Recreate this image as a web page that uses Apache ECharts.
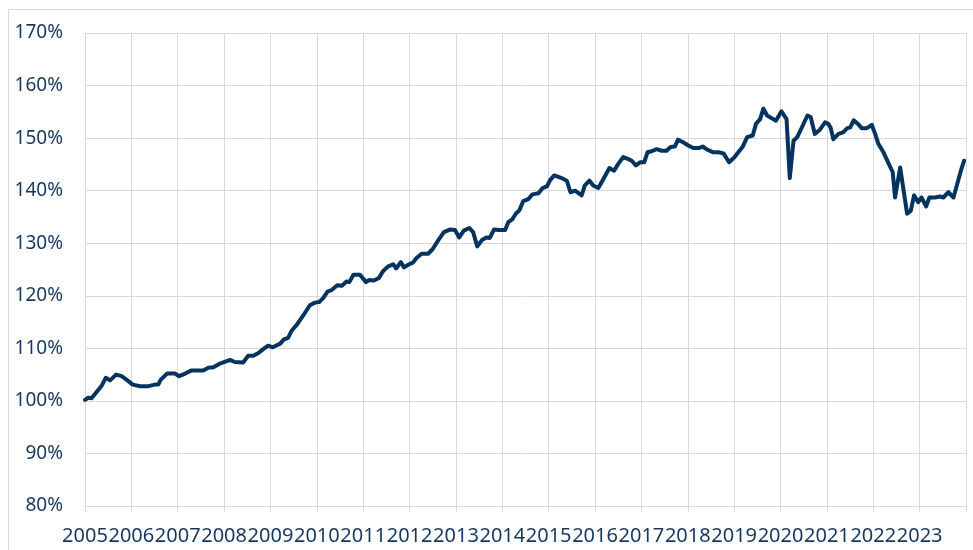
<!DOCTYPE html>
<html>
<head>
<meta charset="utf-8">
<title>Index</title>
<script src="https://cdn.jsdelivr.net/npm/echarts@6/dist/echarts.min.js"></script>
<style>
  html, body { margin: 0; padding: 0; background: #fff; }
  #chart { width: 973px; height: 550px; }
</style>
</head>
<body>
<div id="chart"></div>
<script>
// x positions as decimal years, values in %
const dates = [
  2005.00, 2005.07, 2005.14, 2005.25, 2005.36, 2005.45, 2005.54, 2005.67, 2005.79, 2005.90,
  2006.03, 2006.19, 2006.37, 2006.51, 2006.58, 2006.63, 2006.77, 2006.94,
  2007.03, 2007.16, 2007.30, 2007.55, 2007.66, 2007.77, 2007.91,
  2008.13, 2008.23, 2008.41, 2008.52, 2008.63, 2008.74, 2008.85, 2008.95,
  2009.05, 2009.21, 2009.29, 2009.38, 2009.46, 2009.57, 2009.71, 2009.85, 2009.96,
  2010.05, 2010.14, 2010.23, 2010.32, 2010.44, 2010.54, 2010.64, 2010.70, 2010.79, 2010.93,
  2011.06, 2011.13, 2011.23, 2011.34, 2011.43, 2011.54, 2011.65, 2011.71, 2011.81, 2011.88, 2011.97,
  2012.07, 2012.15, 2012.26, 2012.40, 2012.50, 2012.62, 2012.74, 2012.87, 2012.98,
  2013.07, 2013.17, 2013.29, 2013.37, 2013.46, 2013.56, 2013.66, 2013.73, 2013.82, 2013.93,
  2014.06, 2014.13, 2014.22, 2014.29, 2014.37, 2014.45, 2014.56, 2014.65, 2014.78, 2014.87, 2014.96,
  2015.03, 2015.12, 2015.28, 2015.39, 2015.47, 2015.57, 2015.71, 2015.78, 2015.88, 2015.96,
  2016.07, 2016.18, 2016.31, 2016.41, 2016.50, 2016.61, 2016.72, 2016.79, 2016.88, 2016.97,
  2017.06, 2017.13, 2017.22, 2017.33, 2017.44, 2017.54, 2017.63, 2017.72, 2017.79, 2017.90,
  2018.01, 2018.12, 2018.23, 2018.32, 2018.42, 2018.55, 2018.66, 2018.77, 2018.89,
  2019.00, 2019.09, 2019.18, 2019.28, 2019.40, 2019.47, 2019.56, 2019.63, 2019.71, 2019.81, 2019.90,
  2020.02, 2020.13, 2020.20, 2020.28, 2020.36, 2020.48, 2020.58, 2020.65, 2020.74, 2020.85, 2020.96,
  2021.03, 2021.08, 2021.14, 2021.25, 2021.35, 2021.44, 2021.50, 2021.58, 2021.67, 2021.75, 2021.86, 2021.97,
  2022.04, 2022.11, 2022.22, 2022.32, 2022.42, 2022.47, 2022.58, 2022.65, 2022.73, 2022.81, 2022.88, 2022.97,
  2023.04, 2023.14, 2023.21, 2023.33, 2023.44, 2023.51, 2023.62, 2023.73, 2023.83, 2023.91, 2023.96
]
const values = [
  100.2, 100.6, 100.5, 101.7, 102.9, 104.4, 103.9, 105.0, 104.7, 104.0,
  103.1, 102.8, 102.8, 103.1, 103.1, 104.0, 105.2, 105.2,
  104.7, 105.2, 105.8, 105.8, 106.3, 106.4, 107.1,
  107.8, 107.4, 107.3, 108.6, 108.6, 109.1, 109.9, 110.5,
  110.2, 110.9, 111.7, 112.0, 113.4, 114.5, 116.3, 118.2, 118.7,
  118.8, 119.6, 120.8, 121.1, 122.0, 121.9, 122.7, 122.6, 124.0, 124.0,
  122.6, 123.0, 122.9, 123.4, 124.7, 125.6, 126.0, 125.2, 126.4, 125.4, 125.9,
  126.3, 127.2, 128.0, 128.0, 128.9, 130.6, 132.1, 132.6, 132.5,
  131.1, 132.4, 132.9, 132.1, 129.4, 130.6, 131.1, 131.0, 132.6, 132.5,
  132.5, 134.0, 134.6, 135.6, 136.3, 138.0, 138.4, 139.3, 139.5, 140.5, 140.8,
  142.0, 142.9, 142.4, 141.9, 139.7, 140.0, 139.1, 141.0, 141.9, 141.0,
  140.5, 142.2, 144.3, 143.8, 145.1, 146.4, 146.0, 145.7, 144.8, 145.4,
  145.4, 147.3, 147.5, 147.9, 147.6, 147.6, 148.3, 148.4, 149.7, 149.2,
  148.6, 148.1, 148.1, 148.4, 147.8, 147.3, 147.3, 147.1, 145.4,
  146.3, 147.3, 148.3, 150.2, 150.5, 152.7, 153.6, 155.6, 154.3, 153.8, 153.3,
  155.1, 153.6, 142.4, 149.5, 150.2, 152.4, 154.3, 154.0, 150.8, 151.6, 153.0,
  152.7, 152.0, 149.8, 150.8, 151.1, 151.9, 152.0, 153.4, 152.7, 151.9, 151.9, 152.5,
  150.8, 148.9, 147.3, 145.4, 143.5, 138.7, 144.4, 140.3, 135.6, 136.2, 139.1, 137.8,
  138.7, 137.0, 138.7, 138.7, 138.9, 138.7, 139.7, 138.7, 141.9, 144.4, 145.7
]
const firstYear = 2005
const lastYear = 2024
const yMin = 80
const yMax = 170

const chart = echarts.init(document.getElementById('chart'))

const option = {
  animation: false,
  graphic: [
    {
      // thin frame round the chart area
      type: 'rect',
      shape: { x: 8.5, y: 9.5, width: 1000, height: 600 },
      style: { fill: 'none', stroke: '#d9d9d9', lineWidth: 1 },
      silent: true
    }
  ],
  grid: {
    left: 85,
    right: 7,
    top: 33,
    bottom: 44
  },
  xAxis: {
    type: 'value',
    min: firstYear,
    max: lastYear,
    interval: 1,
    axisLine: { show: true, lineStyle: { color: '#d9d9d9', width: 1 } },
    axisTick: { show: true, length: 6, lineStyle: { color: '#d9d9d9' } },
    axisLabel: {
      color: '#17375e',
      fontFamily: 'Noto Sans',
      fontSize: 20,
      margin: 20,
      hideOverlap: false,
      formatter: (v) => (v === lastYear ? '' : String(v))
    },
    splitLine: { show: true, lineStyle: { color: '#d9d9d9', width: 1 } }
  },
  yAxis: {
    type: 'value',
    min: yMin,
    max: yMax,
    interval: 10,
    axisLine: { show: false },
    axisTick: { show: false },
    axisLabel: {
      color: '#17375e',
      fontFamily: 'Noto Sans',
      fontSize: 19,
      margin: 22,
      formatter: '{value}%'
    },
    splitLine: { show: true, lineStyle: { color: '#d9d9d9', width: 1 } }
  },
  series: [
    {
      type: 'line',
      data: dates.map((d, i) => [d, values[i]]),
      showSymbol: false,
      smooth: false,
      lineStyle: { color: '#03335f', width: 4, join: 'round', cap: 'round' },
      itemStyle: { color: '#03335f' }
    }
  ]
}

chart.setOption(option)
</script>
</body>
</html>
